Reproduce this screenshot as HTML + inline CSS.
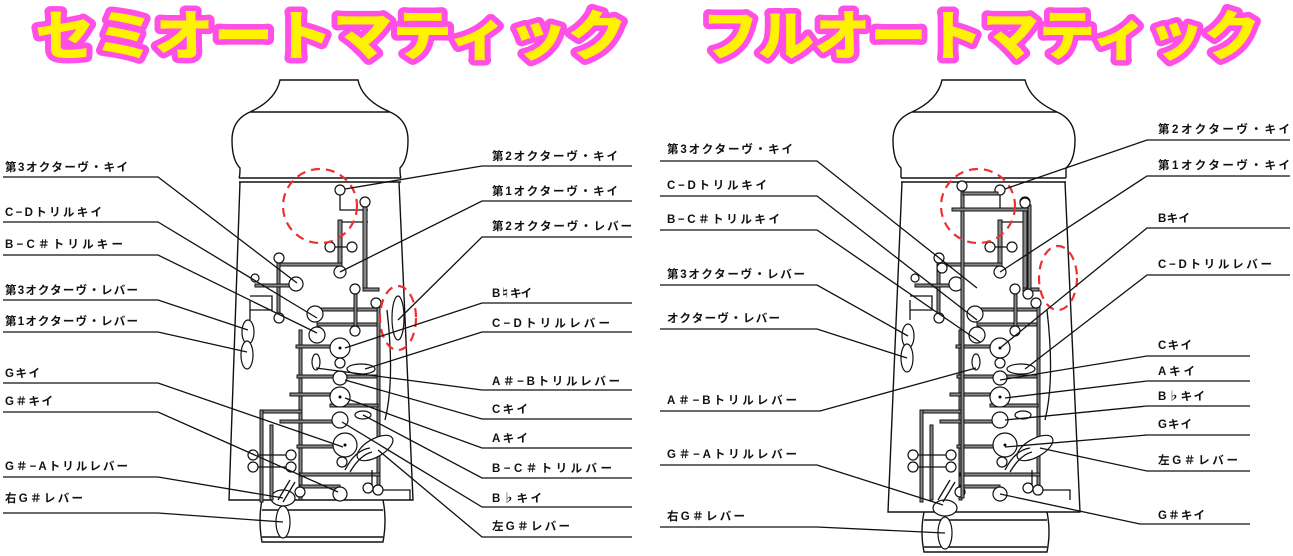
<!DOCTYPE html>
<html><head><meta charset="utf-8"><style>
html,body{margin:0;padding:0;background:#fff;width:1293px;height:556px;overflow:hidden}
svg{display:block}
.t{font-family:"Noto Sans CJK JP","Liberation Sans",sans-serif;font-weight:900;font-size:54px;fill:#fff200;stroke:#ff4fe6;stroke-width:11;stroke-linejoin:round;paint-order:stroke}
.l{font-family:"Liberation Sans","Noto Sans CJK JP",sans-serif;font-size:11.5px;font-weight:bold;fill:#111}
.k{fill:none;stroke:#111;stroke-width:1.3}
.b{fill:none;stroke:#111;stroke-width:1.4}
.r{fill:#888;stroke:#111;stroke-width:1}
.c{fill:#fff;stroke:#111;stroke-width:1.2}
.d{fill:none;stroke:#f03030;stroke-width:2.2;stroke-dasharray:9 6}
</style></head><body>
<svg width="1293" height="556" viewBox="0 0 1293 556">
<defs>
<g id="mech">
 <path class="k" d="M340 190 V210 H368 M340 222 H368"/>
 <rect class="r" x="338" y="220" width="4" height="52"/>
 <rect class="r" x="363" y="205" width="4" height="85"/>
 <path class="k" d="M330 247 H352"/>
 <rect class="r" x="278" y="263" width="64" height="3"/>
 <rect class="r" x="277" y="258" width="3" height="58"/>
 <rect class="r" x="255" y="284" width="40" height="3"/>
 <path class="k" d="M250 296 H272 V310 H250 M250 300 V320"/>
 <rect class="r" x="363" y="288" width="16" height="3"/>
 <rect class="r" x="315" y="308" width="64" height="3"/>
 <rect class="r" x="317" y="323" width="62" height="3"/>
 <rect class="r" x="354" y="290" width="3" height="42"/>
 <rect class="r" x="377" y="305" width="3" height="190"/>
 <path class="k" d="M387 310 Q395 380 385 420"/>
 <rect class="r" x="299" y="330" width="3" height="170"/>
 <rect class="r" x="296" y="345" width="34" height="3"/>
 <rect class="r" x="297" y="375" width="80" height="3"/>
 <rect class="r" x="290" y="393" width="40" height="3"/>
 <rect class="r" x="330" y="404" width="48" height="3"/>
 <rect class="r" x="262" y="410" width="40" height="3"/>
 <rect class="r" x="260" y="410" width="3" height="92"/>
 <rect class="r" x="280" y="420" width="60" height="3"/>
 <rect class="r" x="270" y="425" width="3" height="75"/>
 <rect class="r" x="297" y="445" width="40" height="3"/>
 <rect class="r" x="300" y="473" width="80" height="3"/>
 <rect class="r" x="300" y="485" width="40" height="3"/>
 <path class="k" d="M253 455 H291 M253 467 H291 M372 470 V490 M382 490 H410 V500"/>
 <circle class="c" cx="340" cy="190" r="5"/>
 <circle class="c" cx="365" cy="202" r="5"/>
 <circle class="c" cx="330" cy="247" r="5"/>
 <circle class="c" cx="352" cy="247" r="5"/>
 <circle class="c" cx="340" cy="272" r="6"/>
 <circle class="c" cx="279" cy="258" r="5"/>
 <circle class="c" cx="296" cy="284" r="7"/>
 <circle class="c" cx="255" cy="278" r="4"/>
 <circle class="c" cx="279" cy="318" r="5"/>
 <circle class="c" cx="315" cy="314" r="8"/>
 <circle class="c" cx="317" cy="335" r="8"/>
 <circle class="c" cx="355" cy="289" r="5"/>
 <circle class="c" cx="355" cy="331" r="5"/>
 <circle class="c" cx="376" cy="303" r="5"/>
 <circle class="c" cx="340" cy="348" r="10"/><circle cx="340" cy="348" r="1.5"/>
 <circle class="c" cx="340" cy="363" r="5"/>
 <ellipse class="c" cx="316" cy="362" rx="4" ry="8"/>
 <circle class="c" cx="340" cy="378" r="7"/>
 <ellipse class="c" cx="361" cy="369" rx="14" ry="5"/>
 <circle class="c" cx="340" cy="397" r="10"/><circle cx="340" cy="397" r="1.5"/>
 <ellipse class="c" cx="363" cy="415" rx="8" ry="4"/>
 <circle class="c" cx="340" cy="420" r="8"/>
 <circle class="c" cx="345" cy="445" r="12"/><circle cx="345" cy="445" r="1.5"/>
 <circle class="c" cx="253" cy="455" r="5"/><circle class="c" cx="291" cy="455" r="5"/>
 <circle class="c" cx="253" cy="467" r="5"/><circle class="c" cx="291" cy="467" r="5"/>
 <circle class="c" cx="342" cy="462" r="5"/>
 <circle class="c" cx="340" cy="494" r="7"/>
 <circle class="c" cx="300" cy="492" r="5"/>
 <circle class="c" cx="368" cy="488" r="5"/>
 <circle class="c" cx="378" cy="490" r="5"/>
 <ellipse class="c" cx="375" cy="448" rx="20" ry="9" transform="rotate(-30 375 448)"/>
 <path class="k" d="M345 470 Q355 450 370 448 M350 472 Q360 455 372 452"/>
 <path class="k" d="M278 500 L290 480 M283 502 L295 482"/>
</g>
</defs>

<text class="t" x="35" y="55" textLength="592" lengthAdjust="spacingAndGlyphs">セミオートマティック</text>
<text class="t" x="702" y="55" textLength="558" lengthAdjust="spacingAndGlyphs">フルオートマティック</text>

<path class="b" d="M280 80 H358 Q362 100 390 112 H250 Q276 100 280 80 Z"/>
<path class="b" d="M250 112 Q232 120 232 140 Q232 160 240 168 Q240 176 239 178 M390 112 Q408 120 408 140 Q408 160 400 168 Q400 176 401 178"/>
<path class="b" d="M239 178 H401 M239 182 H401"/>
<path class="b" d="M240 182 L229 500 H413 L399 182"/>
<path class="b" d="M262 500 Q258 520 262 542 H383 Q387 520 383 500 M262 510 H383 M262 537 H383"/>
<ellipse class="c" cx="283" cy="498" rx="12" ry="8"/>
<ellipse class="c" cx="283" cy="522" rx="7" ry="16"/>
<ellipse class="c" cx="248" cy="332" rx="6" ry="12"/>
<ellipse class="c" cx="247" cy="355" rx="6" ry="14"/>
<ellipse class="c" cx="398" cy="318" rx="6" ry="22"/>
<use href="#mech"/>

<path class="b" d="M942 80 H1025 Q1030 100 1057 112 H912 Q938 100 942 80 Z"/>
<path class="b" d="M912 112 Q893 120 893 140 Q893 160 901 168 Q901 176 901 178 M1057 112 Q1075 120 1075 140 Q1075 160 1066 168 Q1066 176 1066 178"/>
<path class="b" d="M901 178 H1066 M901 182 H1066"/>
<path class="b" d="M902 182 L888 512 H1080 L1065 182"/>
<path class="b" d="M924 512 Q920 532 924 552 H1047 Q1051 532 1047 512 M924 520 H1047 M924 547 H1047"/>
<ellipse class="c" cx="945" cy="508" rx="12" ry="8"/>
<ellipse class="c" cx="945" cy="533" rx="7" ry="16"/>
<ellipse class="c" cx="908" cy="336" rx="6" ry="12"/>
<ellipse class="c" cx="907" cy="358" rx="6" ry="14"/>
<use href="#mech" transform="translate(660,0)"/>
<rect class="r" x="961" y="188" width="3" height="310"/>
<rect class="r" x="963" y="192" width="35" height="3"/>
<rect class="r" x="952" y="208" width="78" height="3"/>
<rect class="r" x="1028" y="205" width="3" height="85"/>
<circle class="c" cx="962" cy="186" r="5"/>
<circle class="c" cx="1025" cy="203" r="5"/>
<circle class="c" cx="1028" cy="294" r="5"/>
<circle class="c" cx="942" cy="268" r="5"/>

<circle class="d" cx="320" cy="206" r="37"/>
<ellipse class="d" cx="398" cy="318" rx="18" ry="32"/>
<circle class="d" cx="978" cy="206" r="37"/>
<ellipse class="d" cx="1058" cy="278" rx="19" ry="32"/>

<g class="l">
<text x="5" y="171" textLength="123">第3オクターヴ・キイ</text>
<text x="5" y="216" textLength="97">C−Dトリルキイ</text>
<text x="5" y="248" textLength="118">B−C＃トリルキー</text>
<text x="5" y="294" textLength="133">第3オクターヴ・レバー</text>
<text x="5" y="325" textLength="133">第1オクターヴ・レバー</text>
<text x="5" y="377" textLength="35">Gキイ</text>
<text x="5" y="405" textLength="48">G＃キイ</text>
<text x="5" y="470" textLength="123">G＃−Aトリルレバー</text>
<text x="5" y="502" textLength="78">右G＃レバー</text>

<text x="492" y="160" textLength="126">第2オクターヴ・キイ</text>
<text x="492" y="195" textLength="126">第1オクターヴ・キイ</text>
<text x="492" y="230" textLength="140">第2オクターヴ・レバー</text>
<text x="492" y="297" textLength="40">B♮キイ</text>
<text x="492" y="327" textLength="118">C−Dトリルレバー</text>
<text x="492" y="385" textLength="128">A＃−Bトリルレバー</text>
<text x="492" y="413" textLength="36">Cキイ</text>
<text x="492" y="442" textLength="36">Aキイ</text>
<text x="492" y="472" textLength="120">B−C＃トリルバー</text>
<text x="492" y="502" textLength="50">B♭キイ</text>
<text x="492" y="530" textLength="78">左G＃レバー</text>

<text x="667" y="153" textLength="126">第3オクターヴ・キイ</text>
<text x="667" y="189" textLength="100">C−Dトリルキイ</text>
<text x="667" y="223" textLength="113">B−C＃トリルキイ</text>
<text x="667" y="278" textLength="138">第3オクターヴ・レバー</text>
<text x="667" y="322" textLength="113">オクターヴ・レバー</text>
<text x="667" y="404" textLength="130">A＃−Bトリルレバー</text>
<text x="667" y="458" textLength="130">G＃−Aトリルレバー</text>
<text x="667" y="520" textLength="78">右G＃レバー</text>

<text x="1158" y="133" textLength="132">第2オクターヴ・キイ</text>
<text x="1158" y="169" textLength="132">第1オクターヴ・キイ</text>
<text x="1158" y="222" textLength="32">Bキイ</text>
<text x="1158" y="268" textLength="114">C−Dトリルレバー</text>
<text x="1158" y="349" textLength="34">Cキイ</text>
<text x="1158" y="375" textLength="37">Aキイ</text>
<text x="1158" y="400" textLength="47">B♭キイ</text>
<text x="1158" y="428" textLength="34">Gキイ</text>
<text x="1158" y="464" textLength="80">左G＃レバー</text>
<text x="1158" y="519" textLength="47">G＃キイ</text>
</g>

<g class="k">
<path d="M3 177 H158 L297 283"/>
<path d="M3 222 H158 L317 318"/>
<path d="M3 255 H158 L317 333"/>
<path d="M3 300 H158 L248 330"/>
<path d="M3 332 H158 L247 352"/>
<path d="M3 383 H158 L343 447"/>
<path d="M3 412 H158 L338 492"/>
<path d="M3 477 H158 L283 498"/>
<path d="M3 513 H158 L283 522"/>

<path d="M632 166 H482 L345 189"/>
<path d="M632 201 H482 L340 272"/>
<path d="M632 237 H482 L398 320"/>
<path d="M632 303 H482 L345 348"/>
<path d="M632 332 H482 L365 369"/>
<path d="M632 390 H482 L316 368"/>
<path d="M632 419 H482 L345 380"/>
<path d="M632 448 H482 L345 398"/>
<path d="M632 478 H482 L363 415"/>
<path d="M632 507 H482 L342 422"/>
<path d="M632 537 H482 L378 450"/>

<path d="M660 161 H817 L977 288"/>
<path d="M660 196 H817 L977 320"/>
<path d="M660 230 H817 L980 342"/>
<path d="M660 285 H817 L908 336"/>
<path d="M660 329 H817 L907 358"/>
<path d="M660 411 H820 L976 368"/>
<path d="M660 465 H817 L943 505"/>
<path d="M660 527 H817 L945 533"/>

<path d="M1290 140 H1147 L1005 189"/>
<path d="M1290 176 H1147 L1000 272"/>
<path d="M1290 228 H1147 L1000 348"/>
<path d="M1290 275 H1147 L1025 369"/>
<path d="M1250 356 H1147 L1000 380"/>
<path d="M1250 381 H1147 L1005 398"/>
<path d="M1250 406 H1147 L1005 420"/>
<path d="M1250 435 H1147 L1005 447"/>
<path d="M1250 471 H1147 L1040 448"/>
<path d="M1250 524 H1140 L1000 494"/>
</g>
</svg>
</body></html>
